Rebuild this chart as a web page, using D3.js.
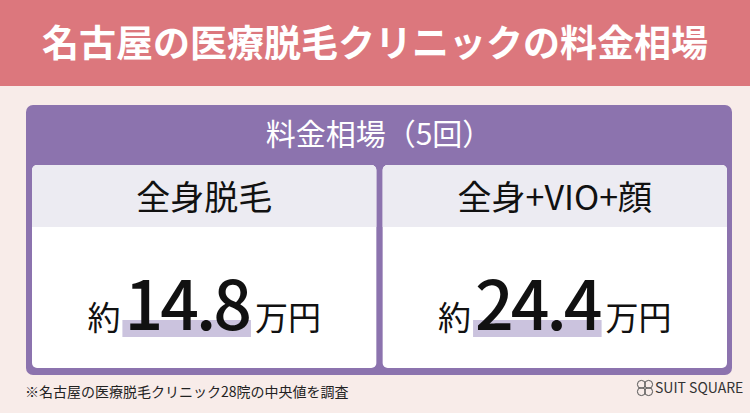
<!DOCTYPE html>
<html><head><meta charset="utf-8">
<script src="https://cdn.jsdelivr.net/npm/d3@7"></script>
<style>body{margin:0;background:#f8ece9}text{font-family:"Noto Sans CJK JP","Noto Sans",sans-serif}</style>
</head><body><svg id="c" width="750" height="413"></svg>
<script>
const title="名古屋の医療脱毛クリニックの料金相場";
const panelTitle="料金相場（5回）";
const categories=["全身脱毛","全身+VIO+顔"];
const values=[14.8,24.4];
const prefix="約", unit="万円";
const note="※名古屋の医療脱毛クリニック28院の中央値を調査";

const svg=d3.select("#c");
svg.append("rect").attr("width",750).attr("height",413).attr("fill","#f8ece9");
svg.append("rect").attr("width",750).attr("height",86).attr("fill","#dc777d");
svg.append("text").attr("x",375).attr("y",57).attr("text-anchor","middle").attr("fill","#fff")
 .attr("font-size",37).attr("font-weight",700).text(title);
svg.append("rect").attr("x",26).attr("y",105).attr("width",706).attr("height",270).attr("rx",7).attr("fill","#8c73ae");
svg.append("text").attr("x",379).attr("y",145).attr("text-anchor","middle").attr("fill","#fff")
 .attr("font-size",30).text(panelTitle);
const x=d3.scaleBand().domain(categories).range([32,727]).paddingInner(0.018);
const g=svg.selectAll("g.card").data(categories).join("g").attr("transform",d=>`translate(${x(d)},165)`);
const w=x.bandwidth();
g.append("rect").attr("width",w).attr("height",203).attr("rx",5).attr("fill","#fff");
g.append("path").attr("d",`M0,62V5a5,5 0 0 1 5,-5H${w-5}a5,5 0 0 1 5,5V62Z`).attr("fill","#ecebf2");
g.append("text").attr("x",w/2).attr("y",45).attr("text-anchor","middle").attr("font-size",34).attr("fill","#111").text(d=>d);
g.each(function(d,i){
  const s=d3.select(this);
  const t=s.append("text").attr("y",165).attr("fill","#111");
  t.append("tspan").attr("font-size",33).text(prefix);
  t.append("tspan").attr("font-size",68).attr("font-weight",500).attr("dx",4).attr("letter-spacing",-3).attr("class","num").text(values[i].toFixed(1));
  t.append("tspan").attr("font-size",33).attr("dx",6).text(unit);
  const bb=t.node().getBBox();
  t.attr("x",w/2-bb.width/2);
  const nn=t.select(".num").node();
  const st=nn.getStartPositionOfChar(0).x, en=nn.getEndPositionOfChar(nn.getNumberOfChars()-1).x;
  s.insert("rect","text:last-of-type").attr("x",st-2).attr("y",155).attr("width",en-st+4).attr("height",17).attr("fill","#cbc3de");
});
svg.append("text").attr("x",25).attr("y",397).attr("font-size",14).attr("fill","#222").text(note);
const lg=svg.append("g").attr("transform","translate(645,388)");
[[-4,-4],[4,-4],[-4,4],[4,4]].forEach(([a,b])=>lg.append("ellipse").attr("cx",a*0.9).attr("cy",b*0.9).attr("rx",4).attr("ry",4).attr("fill","none").attr("stroke","#555").attr("stroke-width",1));
svg.append("text").attr("x",655).attr("y",393).attr("font-size",14).attr("fill","#333").text("SUIT SQUARE");
</script></body></html>
